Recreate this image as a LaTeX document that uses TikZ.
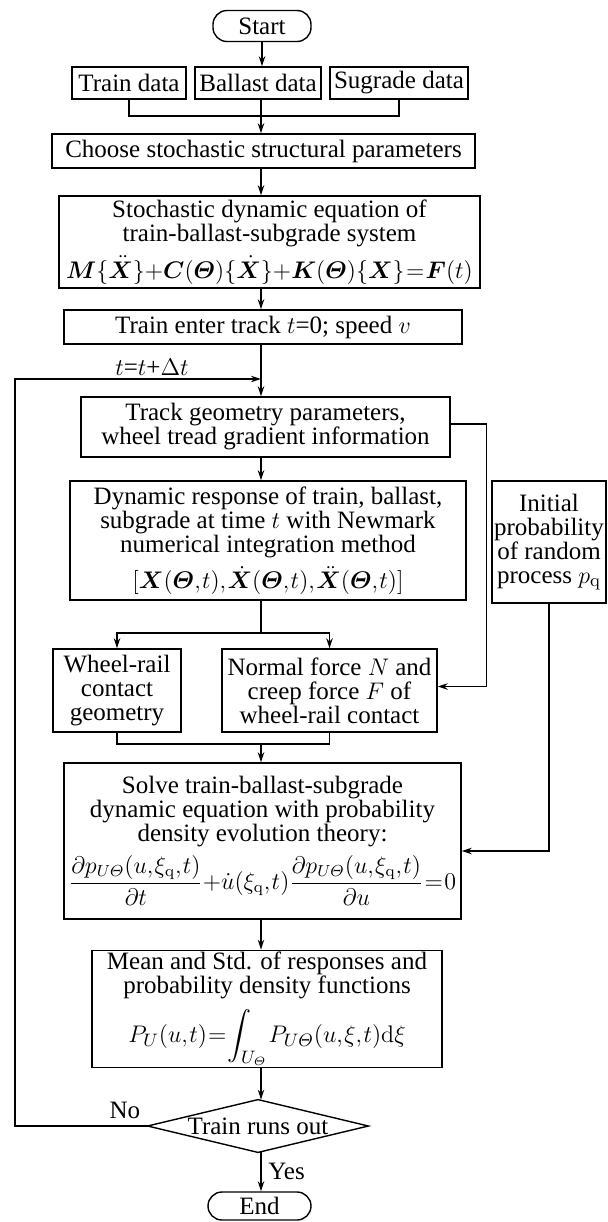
\documentclass[tikz,border=0pt]{standalone}
\usepackage{amsmath}
\usepackage{bm}
\usepackage[no-math]{fontspec}
\setmainfont{Liberation Serif}
\usetikzlibrary{arrows.meta}
\newcommand{\tightmu}{\thinmuskip=1mu \medmuskip=0mu \thickmuskip=1mu}

\begin{document}
\begin{tikzpicture}[x=0.5pt,y=-0.5pt,
		font=\fontsize{12.5}{12}\selectfont,
		box/.style={draw,line width=0.7pt,align=center,inner sep=1pt},
		term/.style={box,rounded corners=7pt},
		arr/.style={-{Stealth[length=5pt,width=3.2pt]},line width=0.7pt},
		lin/.style={line width=0.7pt}]
	
	\useasboundingbox (0,0) rectangle (608,1222);
	
	\node[term,minimum width=49pt,minimum height=15.5pt] (start) at (262,26) {Start};
	\node[box,minimum width=57pt,minimum height=16pt] (train) at (129,83) {Train data};
	\node[box,minimum width=63pt,minimum height=16pt] (ballast) at (258,83) {Ballast data};
	\node[box,minimum width=69pt,minimum height=16pt] (sugrade) at (399,83) {Sugrade data};
	\node[box,minimum width=211.5pt,minimum height=17pt] (choose) at (263.5,151) {Choose stochastic structural parameters};
	\node[box,minimum width=210.5pt,minimum height=46pt] (stoch) at (269.5,242) {Stochastic dynamic equation of\\train-ballast-subgrade system\\[3.5pt]\tightmu$\bm{M}\{\ddot{\bm{X}}\}+\bm{C}(\bm{\varTheta})\{\dot{\bm{X}}\}+\bm{K}(\bm{\varTheta})\{\bm{X}\}=\bm{F}(t)$};
	\node[box,minimum width=199pt,minimum height=17pt] (enter) at (263,327) {Train enter track $t$=0; speed $v$};
	\node[box,minimum width=184.5pt,minimum height=30pt] (track) at (265.5,427) {Track geometry parameters,\\wheel tread gradient information};
	\node[box,minimum width=198pt,minimum height=59.5pt] (dyn) at (268,540.5) {Dynamic response of train, ballast,\\subgrade at time $t$ with Newmark\\numerical integration method\\[3.5pt]\tightmu$[\bm{X}(\bm{\varTheta},t),\dot{\bm{X}}(\bm{\varTheta},t),\ddot{\bm{X}}(\bm{\varTheta},t)]$};
	\node[box,minimum width=57pt,minimum height=61pt] (init) at (549,542) {Initial\\probability\\of random\\process $p_{\mathrm{q}}$};
	\node[box,minimum width=64pt,minimum height=41.5pt] (wheel) at (117,690.5) {Wheel-rail\\contact\\geometry};
	\node[box,minimum width=107.5pt,minimum height=41.5pt] (normal) at (329.5,690.5) {Normal force $N$ and\\creep force $F$ of\\wheel-rail contact};
	\node[box,minimum width=198.5pt,minimum height=78pt] (solve) at (262.5,841) {Solve train-ballast-subgrade\\dynamic equation with probability\\density evolution theory:\\[3pt]{\fontsize{11.5}{12}\selectfont\tightmu$\dfrac{\partial p_{U\varTheta}(u,\xi_{\mathrm{q}},t)}{\partial t}+\dot{u}(\xi_{\mathrm{q}},t)\dfrac{\partial p_{U\varTheta}(u,\xi_{\mathrm{q}},t)}{\partial u}=0$}};
	\node[box,minimum width=175pt,minimum height=56pt] (mean) at (267,1009) {Mean and Std. of responses and\\probability density functions\\[4pt]\tightmu$P_U(u,t)=\displaystyle\int_{U_\varTheta}P_{U\varTheta}(u,\xi,t)\mathrm{d}\xi$};
	\node[minimum width=110pt,minimum height=26pt,inner sep=0pt] (dec) at (258,1126) {Train runs out};
	\draw[lin] (dec.west) -- (dec.north) -- (dec.east) -- (dec.south) -- cycle;
	\node[term,minimum width=51.5pt,minimum height=14pt] (end) at (259.5,1206) {End};
	\node (tlab) at (152,367) {$t$=$t$+$\Delta t$};
	
	\coordinate (m1) at (261,116);
	\coordinate (j1) at (261,379);
	\coordinate (lp) at (15,379);
	\coordinate (s1) at (261,633);
	\coordinate (m2) at (261,744);
	
	\draw[arr] (start) -- (start.south |- ballast.north);
	\draw[lin] (train.south) |- (m1) -| (sugrade.south);
	\draw[lin] (m1 |- ballast.south) -- (m1);
	\draw[arr] (m1) -- (m1 |- choose.north);
	\draw[arr] (m1 |- choose.south) -- (m1 |- stoch.north);
	\draw[arr] (m1 |- stoch.south) -- (m1 |- enter.north);
	\draw[arr] (m1 |- enter.south) -- (m1 |- track.north);
	\draw[arr] (m1 |- track.south) -- (m1 |- dyn.north);
	\draw[arr] ([yshift=1.5pt]track.east) -- ++(36,0) |- ([yshift=2pt]normal.east);
	\draw[lin] (m1 |- dyn.south) -- (s1);
	\draw[arr] (s1) -| (wheel.north);
	\draw[arr] (s1) -| (normal.north);
	\draw[lin] (wheel.south) |- (m2) -| (normal.south);
	\draw[arr] (m2) -- (m1 |- solve.north);
	\draw[arr] (init.south) |- ([yshift=-5pt]solve.east);
	\draw[arr] (m1 |- solve.south) -- (m1 |- mean.north);
	\draw[arr] (m1 |- mean.south) -- (m1 |- dec.north);
	\draw[arr] (m1 |- dec.south) -- node[right]{Yes} (m1 |- end.north);
	\draw[arr] (dec.west) node[above left]{No} -| (lp) -- (j1);
	
\end{tikzpicture}
\end{document}
